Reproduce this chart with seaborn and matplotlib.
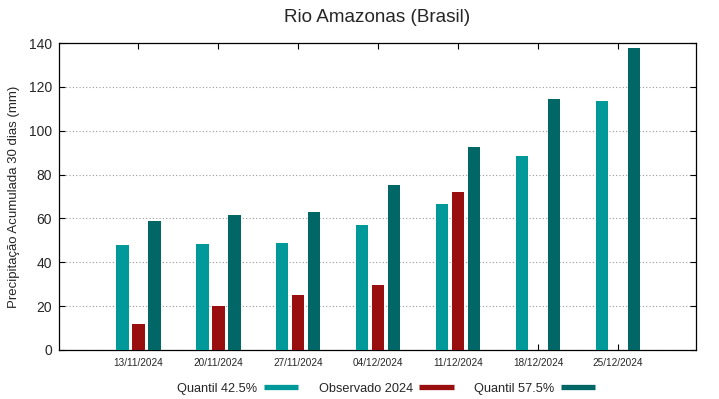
import pandas as pd
import numpy as np
import matplotlib.pyplot as plt
from matplotlib.lines import Line2D
import seaborn as sns

# --- dados ---
datas = ['13/11/2024', '20/11/2024', '27/11/2024', '04/12/2024',
         '11/12/2024', '18/12/2024', '25/12/2024']
quantil_425 = [48.0, 48.3, 48.8, 57.2, 66.6, 88.6, 113.8]
observado_2024 = [12.0, 20.0, 25.0, 29.7, 72.0]  # so ate 11/12
quantil_575 = [58.9, 61.5, 63.0, 75.3, 92.6, 114.5, 137.7]

series = ['Quantil 42.5%', 'Observado 2024', 'Quantil 57.5%']
cores = ['#009999', '#990e0e', '#006666']

rows = []
for d, v in zip(datas, quantil_425):
    rows.append((d, series[0], v))
for d, v in zip(datas, observado_2024):
    rows.append((d, series[1], v))
for d, v in zip(datas, quantil_575):
    rows.append((d, series[2], v))
df = pd.DataFrame(rows, columns=['data', 'serie', 'valor'])

sns.set_style('ticks')
plt.rcParams['font.family'] = ['Liberation Sans', 'DejaVu Sans']

fig = plt.figure(figsize=(7.19, 3.99), dpi=100)
ax = fig.add_axes([0.082, 0.123, 0.886, 0.769])

sns.barplot(data=df, x='data', y='valor', hue='serie', order=datas,
            hue_order=series, palette=cores, width=0.6, gap=0.2,
            errorbar=None, saturation=1, linewidth=0, ax=ax, zorder=3)

ax.set_xlim(-0.99, 6.975)
ax.set_ylim(0, 140)
ax.set_yticks(np.arange(0, 141, 20))
ax.yaxis.grid(True, linestyle=(0, (1, 2)), color='#999999', linewidth=0.8)
ax.set_axisbelow(True)

for s in ax.spines.values():
    s.set_visible(True)
    s.set_color('black')
    s.set_linewidth(0.9)

ax.tick_params(axis='both', direction='in', top=True, right=True,
               length=4, width=0.8, color='black')
ax.tick_params(axis='x', labelsize=7.2, pad=6)
ax.tick_params(axis='y', labelsize=10, pad=5)

ax.set_xlabel('')
ax.set_ylabel('Precipitação Acumulada 30 dias (mm)', fontsize=9.5, labelpad=6)
ax.set_title('Rio Amazonas (Brasil)', fontsize=13.6, pad=15)

ax.get_legend().remove()
handles = [Line2D([0], [0], color=c, lw=3.8, solid_capstyle='butt') for c in cores]
fig.legend(handles, series, loc='center', bbox_to_anchor=(0.537, 0.026),
           ncol=3, frameon=False, markerfirst=False, fontsize=9.2,
           handlelength=2.7, columnspacing=1.6, handletextpad=0.5)

fig.savefig('out.png', dpi=100)
